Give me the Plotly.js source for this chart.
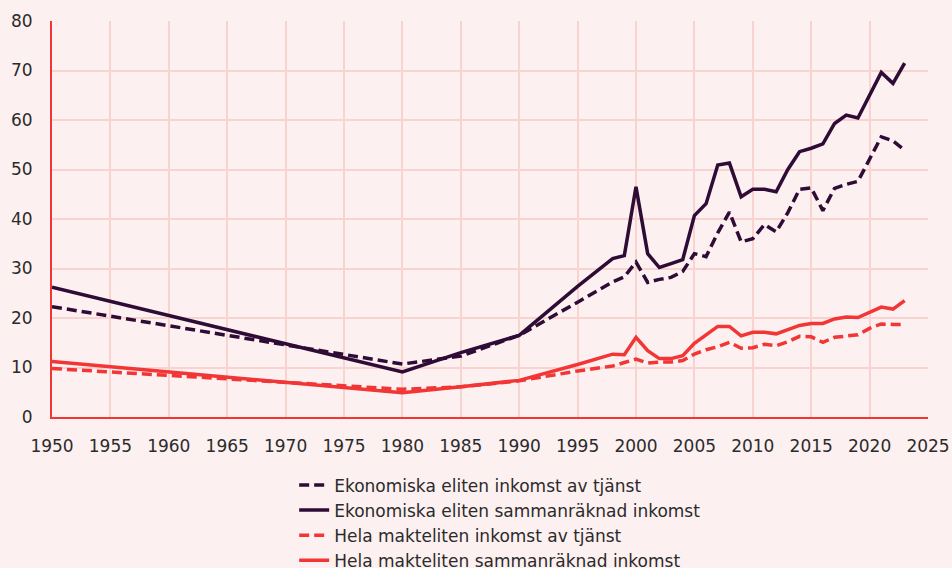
<!DOCTYPE html>
<html>
<head>
<meta charset="utf-8">
<script src="https://cdn.plot.ly/plotly-3.0.1.min.js"></script>
<style>
  html, body { margin: 0; padding: 0; background: #fdf0f0; }
  #chart { width: 952px; height: 568px; }
</style>
</head>
<body>
<div id="chart"></div>
<script>
var years = [1950, 1980, 1985, 1990, 1995, 1998, 1999, 2000, 2001, 2002, 2003, 2004, 2005,
  2006, 2007, 2008, 2009, 2010, 2011, 2012, 2013, 2014, 2015, 2016, 2017, 2018,
  2019, 2020, 2021, 2022, 2023];

var ekoTjanst = [22.3, 10.7, 12.3, 16.5, 23.2, 27.3, 28.3, 31.3, 27.2, 27.8, 28.2, 29.4, 33.0,
  32.4, 37.2, 41.4, 35.4, 36.0, 38.9, 37.4, 41.3, 46.0, 46.3, 41.7, 46.2, 47.0,
  47.6, 52.0, 56.6, 55.8, 53.9];

var ekoSamman = [26.2, 9.1, 13.0, 16.5, 26.4, 32.0, 32.6, 46.5, 33.0, 30.2, 31.0, 31.8, 40.7,
  43.1, 50.9, 51.3, 44.5, 46.0, 46.0, 45.5, 50.0, 53.6, 54.3, 55.2, 59.3, 61.0,
  60.4, 65.0, 69.6, 67.4, 71.5];

var helaTjanst = [9.8, 5.6, 6.1, 7.3, 9.3, 10.3, 11.0, 11.7, 10.9, 11.1, 11.1, 11.4, 12.7,
  13.6, 14.2, 15.1, 13.9, 14.0, 14.7, 14.4, 15.2, 16.3, 16.2, 15.1, 16.1, 16.3,
  16.6, 17.9, 18.8, 18.7, 18.7];

var helaSamman = [11.2, 4.9, 6.1, 7.4, 10.6, 12.7, 12.6, 16.1, 13.4, 11.8, 11.8, 12.4, 14.9,
  16.6, 18.3, 18.3, 16.4, 17.1, 17.1, 16.8, 17.6, 18.5, 18.9, 18.9, 19.8, 20.2,
  20.1, 21.2, 22.2, 21.8, 23.5];

var dark = '#2e0c36';
var red = '#f23535';

var data = [
  {x: years, y: ekoTjanst, name: 'Ekonomiska eliten inkomst av tjänst', type: 'scatter', mode: 'lines',
   line: {color: dark, width: 3.5, dash: '10px,5px'}},
  {x: years, y: ekoSamman, name: 'Ekonomiska eliten sammanräknad inkomst', type: 'scatter', mode: 'lines',
   line: {color: dark, width: 3.5}},
  {x: years, y: helaTjanst, name: 'Hela makteliten inkomst av tjänst', type: 'scatter', mode: 'lines',
   line: {color: red, width: 3.5, dash: '10px,5px'}},
  {x: years, y: helaSamman, name: 'Hela makteliten sammanräknad inkomst', type: 'scatter', mode: 'lines',
   line: {color: red, width: 3.5}}
];

var layout = {
  width: 952,
  height: 568,
  paper_bgcolor: '#fdf0f0',
  plot_bgcolor: '#fdf0f0',
  font: {family: '"DejaVu Sans", sans-serif', size: 17, color: '#2b2b2b'},
  margin: {l: 52, r: 24, t: 21, b: 151, autoexpand: false},
  xaxis: {
    range: [1950, 2025], dtick: 5, tick0: 1950,
    showgrid: true, gridcolor: '#f8d3cf', gridwidth: 1.5,
    showline: true, linecolor: red, linewidth: 2,
    zeroline: false, ticks: '', ticklen: 0, ticklabelstandoff: 13
  },
  yaxis: {
    range: [0, 80], dtick: 10,
    showgrid: true, gridcolor: '#f8d3cf', gridwidth: 1.5,
    showline: true, linecolor: red, linewidth: 2,
    zeroline: false, ticks: '', ticklen: 0, ticklabelstandoff: 14
  },
  showlegend: true,
  legend: {
    orientation: 'v', xref: 'container', yref: 'container',
    x: 0.309, xanchor: 'left', y: 0.177, yanchor: 'top',
    bgcolor: 'rgba(0,0,0,0)', font: {size: 17, color: '#2b2b2b'}, tracegroupgap: 0
  }
};

Plotly.newPlot('chart', data, layout, {displayModeBar: false});
</script>
</body>
</html>
